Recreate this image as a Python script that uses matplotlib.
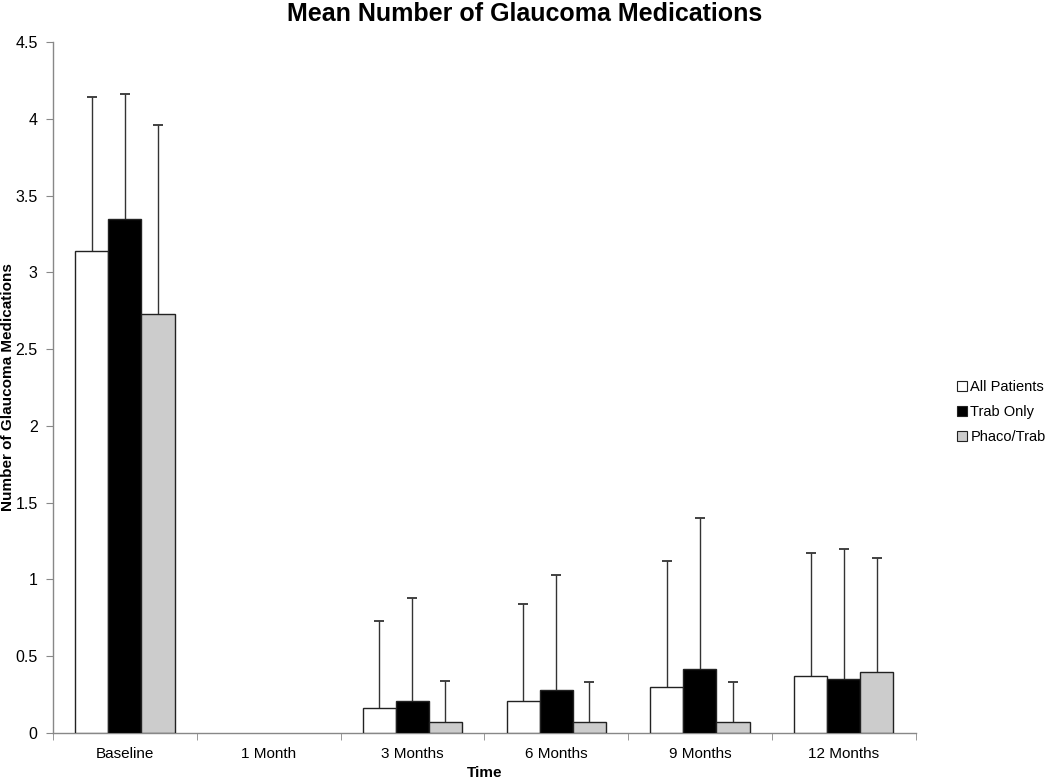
import matplotlib as mpl
mpl.use("Agg")
import matplotlib.pyplot as plt
import numpy as np
from matplotlib.patches import Patch

mpl.rcParams["font.family"] = ["Liberation Sans", "DejaVu Sans"]

# ─── Data ──────────────────────────────────────────────────────────────────
categories = ["Baseline", "1 Month", "3 Months", "6 Months", "9 Months", "12 Months"]
series_names = ["All Patients", "Trab Only", "Phaco/Trab"]

mean_all = [3.14, np.nan, 0.16, 0.21, 0.30, 0.37]
mean_trab = [3.35, np.nan, 0.21, 0.28, 0.42, 0.35]
mean_phaco = [2.73, np.nan, 0.07, 0.07, 0.07, 0.40]

sd_all = [1.00, np.nan, 0.57, 0.63, 0.82, 0.80]
sd_trab = [0.81, np.nan, 0.67, 0.75, 0.98, 0.85]
sd_phaco = [1.23, np.nan, 0.27, 0.26, 0.26, 0.74]

# ─── Style ─────────────────────────────────────────────────────────────────
colors = ["#ffffff", "#000000", "#cccccc"]
EDGE = "#222222"
ERR = "#333333"
AXIS_COL = "#888888"

fig = plt.figure(figsize=(10.5, 7.78), dpi=100)
ax = fig.add_axes([0.0505, 0.0578, 0.8215, 0.8882])

x = np.arange(len(categories))
bar_w = 0.23

for i, (means, sds) in enumerate(zip([mean_all, mean_trab, mean_phaco],
                                     [sd_all, sd_trab, sd_phaco])):
    pos = x + (i - 1) * bar_w
    means = np.asarray(means)
    tops = means + np.asarray(sds)
    ax.bar(pos, means, width=bar_w, color=colors[i], edgecolor=EDGE,
           linewidth=1.0, zorder=3)
    # upper-only error bars (start at the bar top, cap at the end)
    ax.vlines(pos, means, tops, color=ERR, linewidth=1.0, zorder=2)
    ax.plot(pos, tops, ls="none", marker="_", markersize=7,
            markeredgewidth=1.3, color=ERR, zorder=2)

ax.set_xlim(-0.5, len(categories) - 0.5)
ax.set_ylim(0, 4.5)
yt = np.arange(0, 4.51, 0.5)
ax.set_yticks(yt)
ax.set_yticklabels([f"{v:g}" for v in yt], fontsize=11.5)

ax.set_xticks(x)
ax.set_xticklabels(categories, fontsize=11)
ax.set_xticks(np.arange(-0.5, len(categories), 1.0), minor=True)
ax.tick_params(axis="x", which="major", length=0, pad=10)
ax.tick_params(axis="x", which="minor", length=5, color=AXIS_COL, direction="out")
ax.tick_params(axis="y", length=5, color=AXIS_COL, direction="out", pad=6)

for side in ["top", "right"]:
    ax.spines[side].set_visible(False)
for side in ["left", "bottom"]:
    ax.spines[side].set_color(AXIS_COL)
    ax.spines[side].set_linewidth(1.0)

ax.set_xlabel("Time", fontsize=11, fontweight="bold")
ax.xaxis.set_label_coords(0.5, -0.047)
ax.set_ylabel("Number of Glaucoma Medications", fontsize=11, fontweight="bold")
ax.yaxis.set_label_coords(-0.044, 0.5)
fig.suptitle("Mean Number of Glaucoma Medications", fontsize=18,
             fontweight="bold", y=0.997)

handles = [Patch(facecolor=c, edgecolor=EDGE, linewidth=0.8, label=n)
           for c, n in zip(colors, series_names)]
fig.legend(handles=handles, loc="center left", bbox_to_anchor=(0.906, 0.47),
           frameon=False, fontsize=10.5, handlelength=0.7, handleheight=0.7,
           handletextpad=0.2, labelspacing=0.75, borderaxespad=0)

fig.savefig("out.png", dpi=100)
